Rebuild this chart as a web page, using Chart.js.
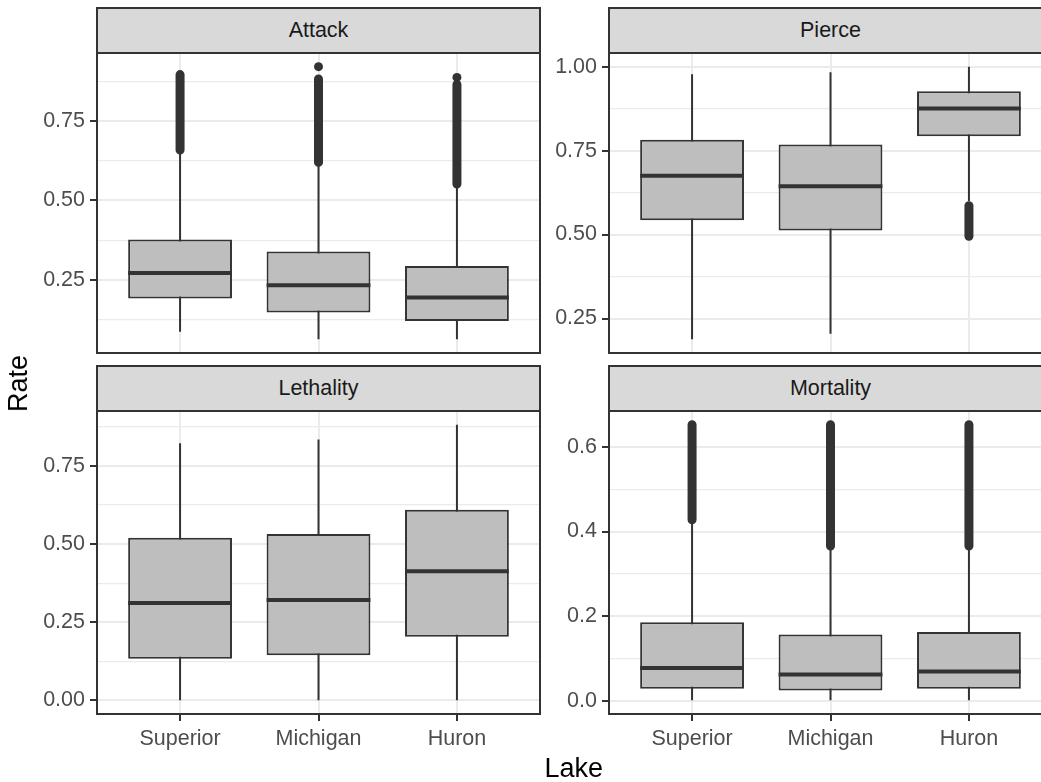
<!DOCTYPE html>
<html>
<head>
<meta charset="utf-8">
<script src="https://cdn.jsdelivr.net/npm/chart.js@4.4.1/dist/chart.umd.min.js"></script>
<style>
html,body{margin:0;padding:0;width:1041px;height:782px;overflow:hidden;background:#fff;font-family:'Liberation Sans',Arial,sans-serif;}
.wrap{position:relative;width:1041px;height:782px;overflow:hidden;}
canvas{position:absolute;}
.strip{position:absolute;box-sizing:border-box;background:#D9D9D9;border:2px solid #333333;color:#1A1A1A;font-size:21.5px;text-align:center;line-height:43px;white-space:nowrap;}
.atitle{position:absolute;color:#000;font-size:27px;line-height:27px;white-space:nowrap;}
</style>
</head>
<body>
<div class="wrap" id="wrap"></div>
<script>
// ---------- data ----------
const lakes = ['Superior', 'Michigan', 'Huron'];

const attackQ1 = [0.191, 0.147, 0.120];
const attackMedian = [0.271, 0.233, 0.194];
const attackQ3 = [0.377, 0.339, 0.293];
const attackWhiskerLow = [0.086, 0.062, 0.062];
const attackWhiskerHigh = [0.655, 0.615, 0.548];
const attackOutlierLow = [0.659, 0.620, 0.552];
const attackOutlierHigh = [0.897, 0.883, 0.866];
const attackSingleOutliers = [{lake: 'Michigan', value: 0.922}, {lake: 'Huron', value: 0.888}];
const attackTicks = [0.25, 0.50, 0.75];
const attackTickLabels = ['0.25', '0.50', '0.75'];
const attackMinorTicks = [0.125, 0.375, 0.625, 0.875];

const pierceQ1 = [0.543, 0.512, 0.793];
const pierceMedian = [0.675, 0.644, 0.875];
const pierceQ3 = [0.782, 0.768, 0.927];
const pierceWhiskerLow = [0.188, 0.205, 0.600];
const pierceWhiskerHigh = [0.977, 0.983, 1.000];
const pierceOutlierLow = [null, null, 0.495];
const pierceOutlierHigh = [null, null, 0.586];
const pierceSingleOutliers = [];
const pierceTicks = [0.25, 0.50, 0.75, 1.00];
const pierceTickLabels = ['0.25', '0.50', '0.75', '1.00'];
const pierceMinorTicks = [0.375, 0.625, 0.875];

const lethalityQ1 = [0.133, 0.144, 0.203];
const lethalityMedian = [0.311, 0.321, 0.413];
const lethalityQ3 = [0.520, 0.532, 0.610];
const lethalityWhiskerLow = [0.000, 0.000, 0.000];
const lethalityWhiskerHigh = [0.823, 0.835, 0.882];
const lethalityOutlierLow = [null, null, null];
const lethalityOutlierHigh = [null, null, null];
const lethalitySingleOutliers = [];
const lethalityTicks = [0.00, 0.25, 0.50, 0.75];
const lethalityTickLabels = ['0.00', '0.25', '0.50', '0.75'];
const lethalityMinorTicks = [0.125, 0.375, 0.625, 0.875];

const mortalityQ1 = [0.029, 0.025, 0.029];
const mortalityMedian = [0.078, 0.063, 0.070];
const mortalityQ3 = [0.186, 0.157, 0.163];
const mortalityWhiskerLow = [0.002, 0.002, 0.002];
const mortalityWhiskerHigh = [0.425, 0.362, 0.362];
const mortalityOutlierLow = [0.428, 0.366, 0.366];
const mortalityOutlierHigh = [0.652, 0.652, 0.652];
const mortalitySingleOutliers = [];
const mortalityTicks = [0.0, 0.2, 0.4, 0.6];
const mortalityTickLabels = ['0.0', '0.2', '0.4', '0.6'];
const mortalityMinorTicks = [0.1, 0.3, 0.5];

const panelTitles = ['Attack', 'Pierce', 'Lethality', 'Mortality'];
const xTitle = 'Lake';
const yTitle = 'Rate';

// ---------- layout ----------
const AXIS_W = 97;
const PANEL_W = 443;
const COL_LEFT = [97, 609];
const ROW_TOP = [53, 411];
const ROW_H = [300, 303];
const PAD_TOP = 20, PAD_RIGHT = 6, PAD_BOTTOM = 20;
const XAXIS_H = 45;
const BOX_WIDTH = 0.75;
const FONT = "'Liberation Sans', Arial, sans-serif";

Chart.defaults.font.family = FONT;

const framePlugin = {
  id: 'panelFrame',
  afterDatasetsDraw(chart) {
    const a = chart.chartArea, ctx = chart.ctx;
    ctx.save();
    ctx.strokeStyle = '#333333';
    ctx.lineWidth = 2;
    ctx.strokeRect(a.left, a.top, a.right - a.left, a.bottom - a.top);
    ctx.restore();
  }
};

const panels = [
  {title: panelTitles[0], col: 0, row: 0, q1: attackQ1, med: attackMedian, q3: attackQ3, wlo: attackWhiskerLow, whi: attackWhiskerHigh, olo: attackOutlierLow, ohi: attackOutlierHigh, single: attackSingleOutliers, ticks: attackTicks, labels: attackTickLabels, minor: attackMinorTicks},
  {title: panelTitles[1], col: 1, row: 0, q1: pierceQ1, med: pierceMedian, q3: pierceQ3, wlo: pierceWhiskerLow, whi: pierceWhiskerHigh, olo: pierceOutlierLow, ohi: pierceOutlierHigh, single: pierceSingleOutliers, ticks: pierceTicks, labels: pierceTickLabels, minor: pierceMinorTicks},
  {title: panelTitles[2], col: 0, row: 1, q1: lethalityQ1, med: lethalityMedian, q3: lethalityQ3, wlo: lethalityWhiskerLow, whi: lethalityWhiskerHigh, olo: lethalityOutlierLow, ohi: lethalityOutlierHigh, single: lethalitySingleOutliers, ticks: lethalityTicks, labels: lethalityTickLabels, minor: lethalityMinorTicks},
  {title: panelTitles[3], col: 1, row: 1, q1: mortalityQ1, med: mortalityMedian, q3: mortalityQ3, wlo: mortalityWhiskerLow, whi: mortalityWhiskerHigh, olo: mortalityOutlierLow, ohi: mortalityOutlierHigh, single: mortalitySingleOutliers, ticks: mortalityTicks, labels: mortalityTickLabels, minor: mortalityMinorTicks}
];

const wrap = document.getElementById('wrap');

panels.forEach((p, k) => {
  const left = COL_LEFT[p.col], top = ROW_TOP[p.row], h = ROW_H[p.row];
  const bottomRow = p.row === 1;

  // strip
  const strip = document.createElement('div');
  strip.className = 'strip';
  strip.style.left = (left - 1) + 'px';
  strip.style.top = (top - 46) + 'px';
  strip.style.width = (PANEL_W + 2) + 'px';
  strip.style.height = '47px';
  strip.textContent = p.title;
  wrap.appendChild(strip);

  // canvas
  const padBottom = bottomRow ? 0 : PAD_BOTTOM;
  const cw = AXIS_W + PANEL_W + PAD_RIGHT;
  const ch = PAD_TOP + h + (bottomRow ? XAXIS_H : padBottom);
  const cv = document.createElement('canvas');
  cv.width = cw; cv.height = ch;
  cv.style.left = (left - AXIS_W) + 'px';
  cv.style.top = (top - PAD_TOP) + 'px';
  cv.style.width = cw + 'px'; cv.style.height = ch + 'px';
  wrap.appendChild(cv);

  // y range like ggplot (data range expanded 5%)
  const allVals = [].concat(p.wlo, p.whi, p.olo, p.ohi, p.single.map(s => s.value)).filter(v => v !== null);
  const dMin = Math.min(...allVals), dMax = Math.max(...allVals);
  const ex = (dMax - dMin) * 0.05;

  const boxData = lakes.map((l, i) => ({x: i + 1, y: [p.q1[i], p.q3[i]]}));
  const whiskerData = [];
  const medianData = [];
  const outlierData = [];
  lakes.forEach((l, i) => {
    whiskerData.push({x: i + 1, y: p.wlo[i]}, {x: i + 1, y: p.whi[i]}, {x: i + 1, y: null});
    medianData.push({x: i + 1 - BOX_WIDTH / 2, y: p.med[i]}, {x: i + 1 + BOX_WIDTH / 2, y: p.med[i]}, {x: i + 1 + BOX_WIDTH / 2, y: null});
    if (p.olo[i] !== null) outlierData.push({x: i + 1, y: p.olo[i]}, {x: i + 1, y: p.ohi[i]}, {x: i + 1, y: null});
  });
  const singleData = p.single.map(s => ({x: lakes.indexOf(s.lake) + 1, y: s.value}));

  new Chart(cv, {
    type: 'bar',
    data: {
      datasets: [
        {type: 'line', data: whiskerData, borderColor: '#333333', borderWidth: 2, pointRadius: 0, spanGaps: false, order: 3},
        {type: 'bar', data: boxData, backgroundColor: '#BEBEBE', borderColor: '#333333', borderWidth: 2, borderSkipped: false, barPercentage: BOX_WIDTH, categoryPercentage: 1, order: 2},
        {type: 'line', data: medianData, borderColor: '#333333', borderWidth: 4, borderCapStyle: 'butt', pointRadius: 0, spanGaps: false, order: 1},
        {type: 'line', data: outlierData, borderColor: '#333333', borderWidth: 9, borderCapStyle: 'round', pointRadius: 0, spanGaps: false, order: 0},
        {type: 'line', data: singleData, showLine: false, pointRadius: 4.5, pointBackgroundColor: '#333333', pointBorderWidth: 0, order: 0}
      ]
    },
    options: {
      responsive: false,
      animation: false,
      events: [],
      layout: {padding: {top: PAD_TOP, right: PAD_RIGHT, bottom: padBottom, left: 0}},
      plugins: {legend: {display: false}, tooltip: {enabled: false}, title: {display: false}},
      scales: {
        x: {
          type: 'linear', min: 0.4, max: lakes.length + 0.6, offset: false,
          afterBuildTicks: s => { s.ticks = lakes.map((l, i) => ({value: i + 1})); },
          afterFit: s => { s.height = bottomRow ? XAXIS_H : 0; s.paddingLeft = 0; s.paddingRight = 0; },
          ticks: {display: bottomRow, autoSkip: false, maxRotation: 0, minRotation: 0, padding: 5, color: '#4D4D4D', font: {size: 21.5}, callback: (v, i) => lakes[i]},
          grid: {offset: false, color: '#EBEBEB', lineWidth: 2, drawTicks: bottomRow, tickLength: 7, tickColor: '#333333', tickWidth: 2},
          border: {display: false}
        },
        y: {
          type: 'linear', min: dMin - ex, max: dMax + ex, beginAtZero: false,
          afterBuildTicks: s => {
            s.ticks = p.ticks.map(v => ({value: v})).concat(p.minor.map(v => ({value: v, minor: true}))).sort((a, b) => a.value - b.value);
          },
          afterFit: s => { s.width = AXIS_W; s.paddingTop = 0; s.paddingBottom = 0; },
          ticks: {autoSkip: false, padding: 5, color: '#4D4D4D', font: {size: 21.5},
            callback: (v, i, ts) => (ts[i] && ts[i].minor) ? '' : p.labels[p.ticks.indexOf(v)]},
          grid: {color: '#EBEBEB',
            lineWidth: c => (c.tick && c.tick.minor) ? 1.2 : 2,
            tickLength: 7,
            tickColor: c => (c.tick && c.tick.minor) ? 'rgba(0,0,0,0)' : '#333333',
            tickWidth: 2},
          border: {display: false}
        }
      }
    },
    plugins: [framePlugin]
  });
});

// axis titles
const lake = document.createElement('div');
lake.className = 'atitle';
lake.textContent = xTitle;
wrap.appendChild(lake);
lake.style.left = (574 - lake.offsetWidth / 2) + 'px';
lake.style.top = '755px';

const rate = document.createElement('div');
rate.className = 'atitle';
rate.textContent = yTitle;
wrap.appendChild(rate);
rate.style.left = (18 - rate.offsetWidth / 2) + 'px';
rate.style.top = (383 - 13.5) + 'px';
rate.style.transform = 'rotate(-90deg)';
</script>
</body>
</html>
